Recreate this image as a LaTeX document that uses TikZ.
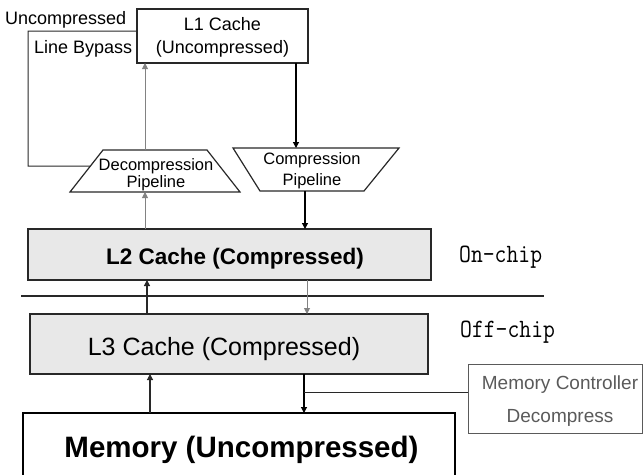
\documentclass[tikz,border=0pt]{standalone}
\usepackage{fontspec}
\setmainfont{Liberation Sans}
\usetikzlibrary{arrows.meta,calc}

\definecolor{cachefill}{RGB}{232,232,232}
\definecolor{edgedark}{RGB}{40,40,40}
\definecolor{lightarrow}{RGB}{130,130,130}
\definecolor{ctrlgray}{RGB}{90,90,90}

\tikzset{
  box/.style={draw=edgedark, line width=1.2pt, inner sep=0pt, outer sep=0pt},
  cachebox/.style={box, fill=cachefill},
  lbl/.style={inner sep=0pt, anchor=base},
  arr/.style={-{Triangle[length=6pt,width=6pt]}, line width=1.2pt, draw=black},
  softarr/.style={-{Triangle[length=6pt,width=6pt]}, line width=0.9pt, draw=lightarrow},
  wire/.style={line width=1.2pt, draw=edgedark},
  chiptag/.style={lbl, font=\ttfamily\fontsize{23}{26}\selectfont},
}

\begin{document}
\begin{tikzpicture}[x=1pt,y=-1pt]
\useasboundingbox (0,0) rectangle (644,474);

% ---- cache levels and memory ----
\node[box, minimum width=171pt, minimum height=54pt] (L1) at (222.5,36) {};
\node[cachebox, minimum width=403pt, minimum height=51pt] (L2) at (229.5,254.5) {};
\node[cachebox, minimum width=398pt, minimum height=60pt] (L3) at (229,344) {};
\node[box, draw=black, minimum width=432pt, minimum height=70pt] (mem) at (239,448) {};
\node[box, draw=ctrlgray, line width=0.9pt, minimum width=174pt, minimum height=69pt] (mc) at (555,398.5) {};

% ---- pipelines ----
\coordinate (decA) at (70,192);
\coordinate (decB) at (240,192);
\coordinate (decC) at (207,150);
\coordinate (decD) at (103,150);
\draw[wire] (decA) -- (decB) -- (decC) -- (decD) -- cycle;

\coordinate (cmpA) at (233,148);
\coordinate (cmpB) at (399,148);
\coordinate (cmpC) at (364,191);
\coordinate (cmpD) at (260,191);
\draw[wire] (cmpA) -- (cmpB) -- (cmpC) -- (cmpD) -- cycle;

% ---- texts ----
\node[lbl, font=\fontsize{18}{22}\selectfont] (t1a) at (L1 |- 0,30) {L1 Cache};
\node[lbl, font=\fontsize{18}{22}\selectfont] (t1b) at (L1 |- 0,53) {(Uncompressed)};
\node[lbl, anchor=base west, font=\fontsize{18}{22}\selectfont] (tunc) at (5,24) {Uncompressed};
\node[lbl, anchor=base west, font=\fontsize{18}{22}\selectfont] (tlb) at (34,53) {Line Bypass};

\node[lbl, font=\fontsize{16.5}{20}\selectfont] (tdec1) at (156,170) {Decompression};
\node[lbl, font=\fontsize{16.5}{20}\selectfont] (tdec2) at (156,187.5) {Pipeline};
\node[lbl, font=\fontsize{16.5}{20}\selectfont] (tcmp1) at (312,164.5) {Compression};
\node[lbl, font=\fontsize{16.5}{20}\selectfont] (tcmp2) at (312,185) {Pipeline};

\node[lbl, font=\bfseries\fontsize{22.5}{26}\selectfont] (tL2) at (235,264) {L2 Cache (Compressed)};
\node[lbl, font=\fontsize{25}{30}\selectfont] (tL3) at (224,355) {L3 Cache (Compressed)};
\node[lbl, font=\bfseries\fontsize{29.5}{34}\selectfont] (tmem) at (241.5,457) {Memory (Uncompressed)};

\node[lbl, text=ctrlgray, font=\fontsize{19}{22}\selectfont] (tmc1) at (560,389) {Memory Controller};
\node[lbl, text=ctrlgray, font=\fontsize{19}{22}\selectfont] (tmc2) at (560,422) {Decompress};

\node[chiptag, anchor=base west] (ton) at (459,262) {\scalebox{1}[1.15]{On-chip}};
\node[chiptag, anchor=base west] (toff) at (460,337) {\scalebox{1}[1.15]{Off-chip}};

% ---- on-chip / off-chip divider ----
\coordinate (divL) at (21,296);
\coordinate (divR) at (544,296);
\draw[wire] (divL) -- (divR);

% ---- uncompressed line bypass ----
\coordinate (bypassCorner) at (28,166);
\coordinate (bypassEnd) at ($(decD)!16/42!(decA)$);
\draw[wire, line width=1pt] ([yshift=5pt]L1.west) -| (bypassCorner) -- (bypassEnd);

% ---- read path (decompression) ----
\coordinate (decIn) at (145,192);
\coordinate (decOut) at (145,150);
\draw[softarr] (L2.north -| decIn) -- (decIn);
\draw[softarr] (decOut) -- (decOut |- L1.south);

% ---- write path (compression) ----
\coordinate (cmpIn) at (296,148);
\coordinate (cmpOut) at (305,191);
\draw[arr] (cmpIn |- L1.south) -- (cmpIn);
\draw[arr] (cmpOut) -- (cmpOut |- L2.north);

% ---- L2 <-> L3 ----
\coordinate (upA) at (147,0);
\coordinate (downA) at (307,0);
\draw[arr, draw=edgedark] (L3.north -| upA) -- (L2.south -| upA);
\draw[softarr] (L2.south -| downA) -- (L3.north -| downA);

% ---- L3 <-> memory ----
\coordinate (upB) at (150,0);
\coordinate (downB) at (304,0);
\coordinate (mcJoin) at (304,392);
\draw[arr, draw=edgedark] (mem.north -| upB) -- (L3.south -| upB);
\draw[arr] (L3.south -| downB) -- (mem.north -| downB);
\draw[wire, line width=1pt] (mcJoin) -- (mcJoin -| mc.west);
\end{tikzpicture}
\end{document}
